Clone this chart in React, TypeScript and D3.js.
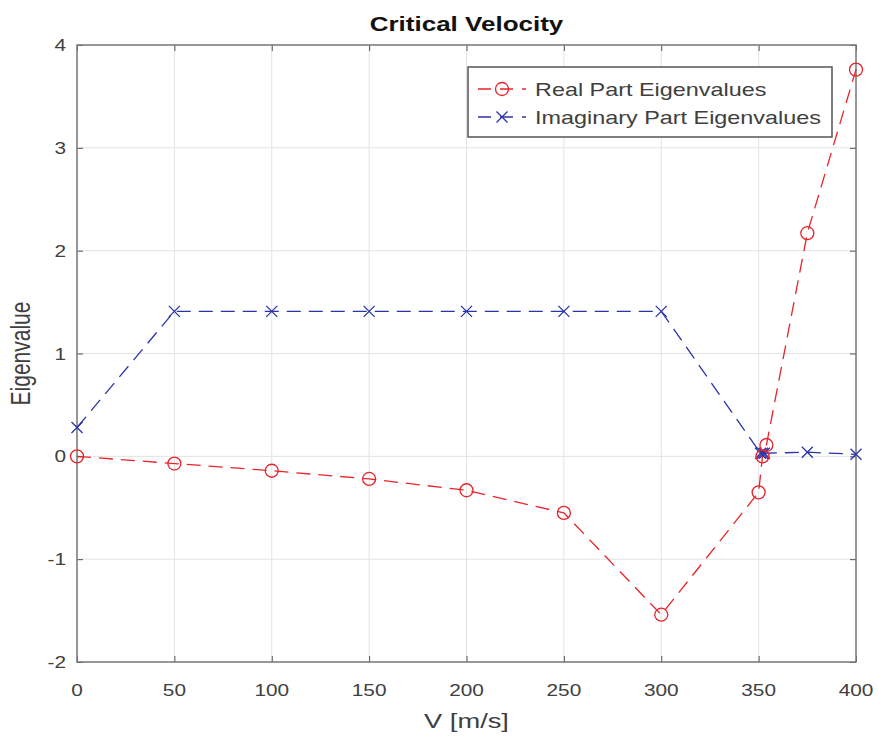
import { useEffect, useRef } from "react";
import * as d3 from "d3";

// speed values (m/s)
const realV = [0, 50, 100, 150, 200, 250, 300, 350, 352, 354, 375, 400];
const realEig = [0.0, -0.07, -0.14, -0.22, -0.33, -0.55, -1.54, -0.35, 0.0, 0.11, 2.17, 3.76];
const imagV = [0, 50, 100, 150, 200, 250, 300, 351, 352, 353, 375, 400];
const imagEig = [0.28, 1.41, 1.41, 1.41, 1.41, 1.41, 1.41, 0.03, 0.03, 0.03, 0.04, 0.02];
const xTicks = [0, 50, 100, 150, 200, 250, 300, 350, 400];
const yTicks = [-2, -1, 0, 1, 2, 3, 4];
const legendLabels = ["Real Part Eigenvalues", "Imaginary Part Eigenvalues"];

const App = () => {
  const svgRef = useRef<SVGSVGElement>(null);

  useEffect(() => {
    const w = 879;
    const h = 742;
    const m = { left: 77, right: 23, top: 45, bottom: 80 };
    const font = "'Liberation Sans', Arial, sans-serif";
    const red = "#e8232a";
    const blue = "#2b34a6";
    const sx = 1.3; // the picture looks stretched sideways, text too

    const svg = d3.select(svgRef.current).attr("width", w).attr("height", h);
    svg.selectAll("*").remove();
    svg.append("rect").attr("width", w).attr("height", h).attr("fill", "#fff");

    const x = d3.scaleLinear().domain([0, 400]).range([m.left, w - m.right]);
    const y = d3.scaleLinear().domain([-2, 4]).range([h - m.bottom, m.top]);

    // stretched text helper
    const label = (parent: any, tx: number, ty: number, str: string, size: number,
      anchor = "middle", weight = "normal", rot = 0) => {
      const g = parent.append("g")
        .attr("transform", `translate(${tx},${ty}) scale(${sx},1)` + (rot ? ` rotate(${rot})` : ""));
      g.append("text").attr("text-anchor", anchor)
        .style("font-family", font).style("font-size", size + "px")
        .style("font-weight", weight).attr("fill", weight === "bold" ? "#111" : "#404040")
        .text(str);
      return g;
    };

    // grid
    const grid = svg.append("g");
    grid.selectAll(".gx").data(xTicks).join("line")
      .attr("x1", d => x(d)).attr("x2", d => x(d))
      .attr("y1", y(-2)).attr("y2", y(4))
      .attr("stroke", "#e3e3e3").attr("stroke-width", 1);
    grid.selectAll(".gy").data(yTicks).join("line")
      .attr("y1", d => y(d)).attr("y2", d => y(d))
      .attr("x1", x(0)).attr("x2", x(400))
      .attr("stroke", "#e3e3e3").attr("stroke-width", 1);

    // axes box with inward ticks
    const axisColor = "#7a7a7a";
    const xAxisB = d3.axisBottom(x).tickValues(xTicks).tickSize(-6).tickFormat(() => "");
    const xAxisT = d3.axisTop(x).tickValues(xTicks).tickSize(-6).tickFormat(() => "");
    const yAxisL = d3.axisLeft(y).tickValues(yTicks).tickSize(-6).tickFormat(() => "");
    const yAxisR = d3.axisRight(y).tickValues(yTicks).tickSize(-6).tickFormat(() => "");
    const styleAxis = (g: any) => {
      g.select(".domain").remove();
      g.selectAll(".tick line").attr("stroke", "#555");
    };
    svg.append("g").attr("transform", `translate(0,${y(-2)})`).call(xAxisB).call(styleAxis);
    svg.append("g").attr("transform", `translate(0,${y(4)})`).call(xAxisT).call(styleAxis);
    svg.append("g").attr("transform", `translate(${x(0)},0)`).call(yAxisL).call(styleAxis);
    svg.append("g").attr("transform", `translate(${x(400)},0)`).call(yAxisR).call(styleAxis);
    svg.append("rect")
      .attr("x", x(0)).attr("y", y(4))
      .attr("width", x(400) - x(0)).attr("height", y(-2) - y(4))
      .attr("fill", "none").attr("stroke", axisColor).attr("stroke-width", 1.5);

    // tick labels
    xTicks.forEach(t => label(svg, x(t), y(-2) + 34, String(t), 16));
    yTicks.forEach(t => label(svg, x(0) - 11, y(t) + 6, String(t), 16, "end"));

    // lines
    const line = d3.line<[number, number]>().x(d => x(d[0])).y(d => y(d[1]));
    const realPts: [number, number][] = realV.map((v, i) => [v, realEig[i]]);
    const imagPts: [number, number][] = imagV.map((v, i) => [v, imagEig[i]]);

    svg.append("path").datum(imagPts).attr("d", line)
      .attr("fill", "none").attr("stroke", blue).attr("stroke-width", 1.3)
      .attr("stroke-dasharray", "14,8");
    svg.append("path").datum(realPts).attr("d", line)
      .attr("fill", "none").attr("stroke", red).attr("stroke-width", 1.3)
      .attr("stroke-dasharray", "14,8");

    const drawX = (g: any, cx: number, cy: number, s: number) => {
      g.append("path")
        .attr("d", `M${cx - s},${cy - s}L${cx + s},${cy + s}M${cx - s},${cy + s}L${cx + s},${cy - s}`)
        .attr("stroke", blue).attr("stroke-width", 1.3).attr("fill", "none");
    };
    const marks = svg.append("g");
    imagPts.forEach(d => drawX(marks, x(d[0]), y(d[1]), 5.5));
    marks.selectAll(".c").data(realPts).join("circle")
      .attr("cx", d => x(d[0])).attr("cy", d => y(d[1])).attr("r", 6.5)
      .attr("fill", "none").attr("stroke", red).attr("stroke-width", 1.3);

    // title and axis labels
    label(svg, (x(0) + x(400)) / 2, 31, "Critical Velocity", 20, "middle", "bold");
    label(svg, (x(0) + x(400)) / 2, 728, "V [m/s]", 21);
    label(svg, 30, (y(-2) + y(4)) / 2, "Eigenvalue", 21, "middle", "normal", -90);

    // legend
    const lg = svg.append("g").attr("transform", "translate(468,67)");
    lg.append("rect").attr("width", 364).attr("height", 70)
      .attr("fill", "#fff").attr("stroke", "#555").attr("stroke-width", 1.5);
    const rows = [
      { color: red, kind: "o" },
      { color: blue, kind: "x" },
    ];
    rows.forEach((r, i) => {
      const cy = 22 + i * 28;
      lg.append("line").attr("x1", 10).attr("x2", 58).attr("y1", cy).attr("y2", cy)
        .attr("stroke", r.color).attr("stroke-width", 1.3).attr("stroke-dasharray", "13,9");
      if (r.kind === "o") {
        lg.append("circle").attr("cx", 34).attr("cy", cy).attr("r", 6.5)
          .attr("fill", "none").attr("stroke", r.color).attr("stroke-width", 1.3);
      } else {
        drawX(lg, 34, cy, 5.5);
      }
      label(lg, 67, cy + 6.5, legendLabels[i], 18, "start");
    });
  }, []);

  return (
    <svg ref={svgRef} style={{ display: "block", position: "absolute", left: 0, top: 0, overflow: "visible" }}></svg>
  );
};

export default App;
